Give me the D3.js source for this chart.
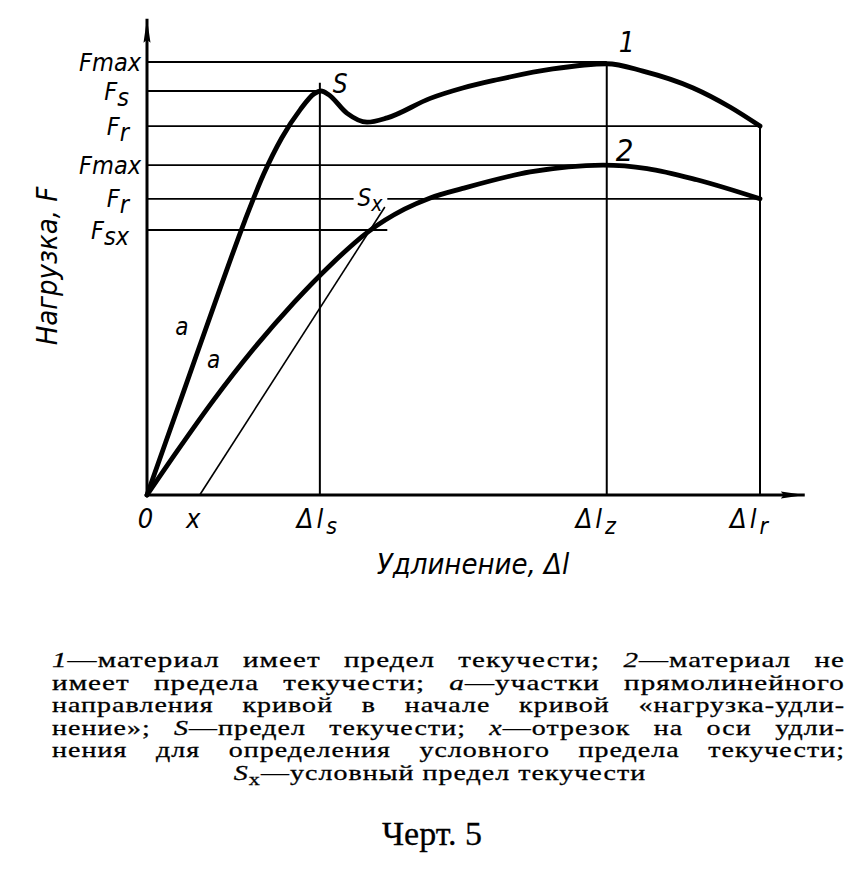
<!DOCTYPE html>
<html>
<head>
<meta charset="utf-8">
<script src="https://cdn.jsdelivr.net/npm/d3@7"></script>
<style>
  body { margin: 0; background: #fff; }
  svg { display: block; }
  .lbl { font-family: "DejaVu Sans Condensed", "Liberation Sans Narrow", "DejaVu Sans", sans-serif; font-style: italic; fill: #000; }
  .cap { font-family: "Liberation Serif", "DejaVu Serif", serif; fill: #000; stroke: #000; stroke-width: 0.3; }
</style>
</head>
<body>
<svg width="866" height="869"></svg>
<script>
// curve 1: material with a yield point (elongation, load)
const curve1 = [
  [0, 0], [6, 24], [12, 48], [16, 63.5], [19, 74], [22, 82.5], [25, 89],
  [27.3, 92.7], [28.4, 93.3], [29.6, 92.5], [32.6, 88.2], [35.9, 86.1],
  [39.2, 87.1], [46.2, 91.6], [51.5, 94], [57.1, 95.9], [66.2, 98.4],
  [75, 99.6], [80.9, 97.9], [89.1, 94], [95.1, 89.6], [100, 85.2]
];
// curve 2: material without a yield point
const curve2 = [
  [0, 0], [5, 10.3], [10.8, 21.8], [17.3, 33.6], [24, 44.5], [30, 53.2],
  [35.9, 60.6], [42, 66], [46.2, 68.6], [51.5, 70.8], [62.5, 74.6],
  [74.4, 76.2], [81.6, 75.4], [89.7, 72.8], [100, 68.4]
];
// offset line parallel to the initial part of curve 2
const offsetLine = [[8.6, 0], [38.8, 66.5]];

// horizontal load levels
const levelMain = ["F", "F", "F", "F", "F", "F"];
const levelSub = ["max", "s", "r", "max", "r", "sx"];
const levelValues = [100, 93.3, 85.2, 76.2, 68.4, 61.2];
const levelEnds = [75, 28.2, 100, 75, 100, 39.2];
const levelSubDrop = [0, 1, 1, 0, 1, 1];

// vertical elongation marks
const markValues = [28.2, 75, 100];
const markTops = [95.2, 100, 85.2];

// x tick labels
const xTickValues = [0, 8.6, 28.2, 75, 100];
const xTickMain = ["0", "x", "Δl", "Δl", "Δl"];
const xTickSub = ["", "", "s", "z", "r"];

const xAxisMax = 107.3;
const yAxisMax = 110;

const captionLines = [
  [["1", true], ["—материал  имеет  предел текучести; ", false], ["2", true], ["—материал не", false]],
  [["имеет предела  текучести;  ", false], ["а", true], ["—участки прямолинейного", false]],
  [["направления кривой в начале кривой «нагрузка-удли-", false]],
  [["нение»; ", false], ["S", true], ["—предел текучести; ", false], ["x", true], ["—отрезок на оси удли-", false]],
  [["нения для определения условного предела текучести;", false]]
];

const svg = d3.select("svg");

const x = d3.scaleLinear().domain([0, 100]).range([147, 760]);
const y = d3.scaleLinear().domain([0, 100]).range([495, 62]);

const defs = svg.append("defs");
defs.append("marker")
  .attr("id", "arrow")
  .attr("viewBox", "0 0 24 8")
  .attr("refX", 24).attr("refY", 4)
  .attr("markerWidth", 24).attr("markerHeight", 8)
  .attr("markerUnits", "userSpaceOnUse")
  .attr("orient", "auto")
  .append("path")
  .attr("d", "M0,0.5 L24,4 L0,7.5 L3,4 Z")
  .attr("fill", "#000");

const g = svg.append("g");

// horizontal level lines (second Fr is broken by the Sx label)
levelValues.forEach((v, i) => {
  const parts = i === 4 ? [[0, 33.7], [39.2, levelEnds[i]]] : [[0, levelEnds[i]]];
  parts.forEach((p) => {
    g.append("line").attr("x1", x(p[0])).attr("x2", x(p[1]))
      .attr("y1", y(v)).attr("y2", y(v)).attr("stroke", "#000").attr("stroke-width", 1.8);
  });
});

// vertical marks
g.selectAll(".mark")
  .data(markValues)
  .enter()
  .append("line")
  .attr("class", "mark")
  .attr("x1", (d) => x(d)).attr("x2", (d) => x(d))
  .attr("y1", y(0)).attr("y2", (d, i) => y(markTops[i]))
  .attr("stroke", "#000").attr("stroke-width", 2);

const line = d3.line().x((d) => x(d[0])).y((d) => y(d[1]));

g.append("path")
  .attr("d", line(offsetLine))
  .attr("fill", "none").attr("stroke", "#000").attr("stroke-width", 1.6);

const smooth = d3.line().x((d) => x(d[0])).y((d) => y(d[1])).curve(d3.curveMonotoneX);

[curve1, curve2].forEach((c) => {
  g.append("path")
    .attr("d", smooth(c))
    .attr("fill", "none").attr("stroke", "#000")
    .attr("stroke-width", 4.8).attr("stroke-linejoin", "round").attr("stroke-linecap", "round");
});

// axes with arrows
g.append("line")
  .attr("x1", x(0)).attr("y1", y(0)).attr("x2", x(xAxisMax)).attr("y2", y(0))
  .attr("stroke", "#000").attr("stroke-width", 3).attr("marker-end", "url(#arrow)");
g.append("line")
  .attr("x1", x(0)).attr("y1", y(0)).attr("x2", x(0)).attr("y2", y(yAxisMax))
  .attr("stroke", "#000").attr("stroke-width", 3).attr("marker-end", "url(#arrow)");

// x tick labels via axis
const xAxis = svg.append("g")
  .attr("transform", `translate(0,${y(0)})`)
  .call(d3.axisBottom(x).tickValues(xTickValues).tickSize(0).tickPadding(14).tickFormat(() => ""));
xAxis.select(".domain").remove();
xAxis.selectAll(".tick text").each(function (d, i) {
  const t = d3.select(this)
    .attr("class", "lbl").attr("font-size", 27)
    .attr("letter-spacing", i >= 2 ? 3 : 0)
    .attr("dy", "0.71em").attr("dx", i === 1 ? -7 : (i >= 3 ? -10 : -2))
    .text(null);
  t.append("tspan").text(xTickMain[i]);
  if (xTickSub[i]) t.append("tspan").attr("dy", 6).attr("font-size", 23).text(xTickSub[i]);
});

// y tick labels via axis
const yAxis = svg.append("g")
  .attr("transform", `translate(${x(0)},0)`)
  .call(d3.axisLeft(y).tickValues(levelValues).tickSize(0).tickPadding(6).tickFormat(() => ""));
yAxis.select(".domain").remove();
yAxis.selectAll(".tick text").each(function (d, i) {
  const t = d3.select(this)
    .attr("class", "lbl").attr("font-size", 25)
    .attr("dy", "0.32em")
    .attr("dx", levelSubDrop[i] ? -12 : 0)
    .text(null);
  t.append("tspan").text(levelMain[i]);
  t.append("tspan").attr("dy", levelSubDrop[i] ? 6 : 0).text(levelSub[i]);
});

// curve annotations
g.append("text").attr("class", "lbl").attr("font-size", 26)
  .attr("x", x(28.2) + 13).attr("y", y(93.3) + 2).text("S");
const sx = g.append("text").attr("class", "lbl").attr("font-size", 24)
  .attr("x", x(33.7) + 4).attr("y", y(68.4) + 7);
sx.append("tspan").text("S");
sx.append("tspan").attr("dy", 5).attr("font-size", 21).text("x");
g.append("text").attr("class", "lbl").attr("font-size", 28)
  .attr("x", x(75) + 12).attr("y", y(100) - 10).text("1");
g.append("text").attr("class", "lbl").attr("font-size", 31)
  .attr("x", x(75) + 9).attr("y", y(76.2) - 4).text("2");
g.append("text").attr("class", "lbl").attr("font-size", 24)
  .attr("x", x(4.6)).attr("y", y(37)).text("a");
g.append("text").attr("class", "lbl").attr("font-size", 24)
  .attr("x", x(9.8)).attr("y", y(29.3)).text("a");

// axis titles
svg.append("text").attr("class", "lbl").attr("font-size", 29)
  .attr("x", 473).attr("y", 574)
  .attr("text-anchor", "middle").text("Удлинение, Δl");
svg.append("text").attr("class", "lbl").attr("font-size", 29)
  .attr("transform", "translate(57,266) rotate(-90)")
  .attr("text-anchor", "middle").text("Нагрузка, F");

// caption, justified between the paragraph edges:
// glyphs widened, the rest of the width goes into word gaps
const capTop = 667, capStep = 22.6, capLeft = 52, capWidth = 793, widen = 1.3;
captionLines.forEach((segs, i) => {
  const t = svg.append("text").attr("class", "cap").attr("font-size", 21.5)
    .attr("letter-spacing", 0.8)
    .attr("x", capLeft).attr("y", capTop + i * capStep);
  segs.forEach((s) => t.append("tspan").attr("font-style", s[1] ? "italic" : null).text(s[0]));
  const natural = t.node().getComputedTextLength();
  const gaps = segs.map((s) => s[0]).join("").split(" ").length - 1;
  const ws = Math.max(0, (capWidth / widen - natural) / gaps);
  t.attr("word-spacing", ws)
    .attr("textLength", capWidth).attr("lengthAdjust", "spacingAndGlyphs");
});
const last = svg.append("text").attr("class", "cap").attr("font-size", 21.5)
  .attr("letter-spacing", 0.8)
  .attr("x", 440).attr("y", capTop + 5 * capStep).attr("text-anchor", "middle");
last.append("tspan").attr("font-style", "italic").text("S");
last.append("tspan").attr("dy", 5).attr("font-size", 17).text("x");
last.append("tspan").attr("dy", -5).text("—условный предел текучести");
const lastLen = last.node().getComputedTextLength() * widen;
last.attr("text-anchor", null).attr("x", 440 - lastLen / 2)
  .attr("textLength", lastLen).attr("lengthAdjust", "spacingAndGlyphs");

svg.append("text").attr("class", "cap").attr("font-size", 34)
  .attr("x", 432).attr("y", 845).attr("text-anchor", "middle").text("Черт. 5");
</script>
</body>
</html>
